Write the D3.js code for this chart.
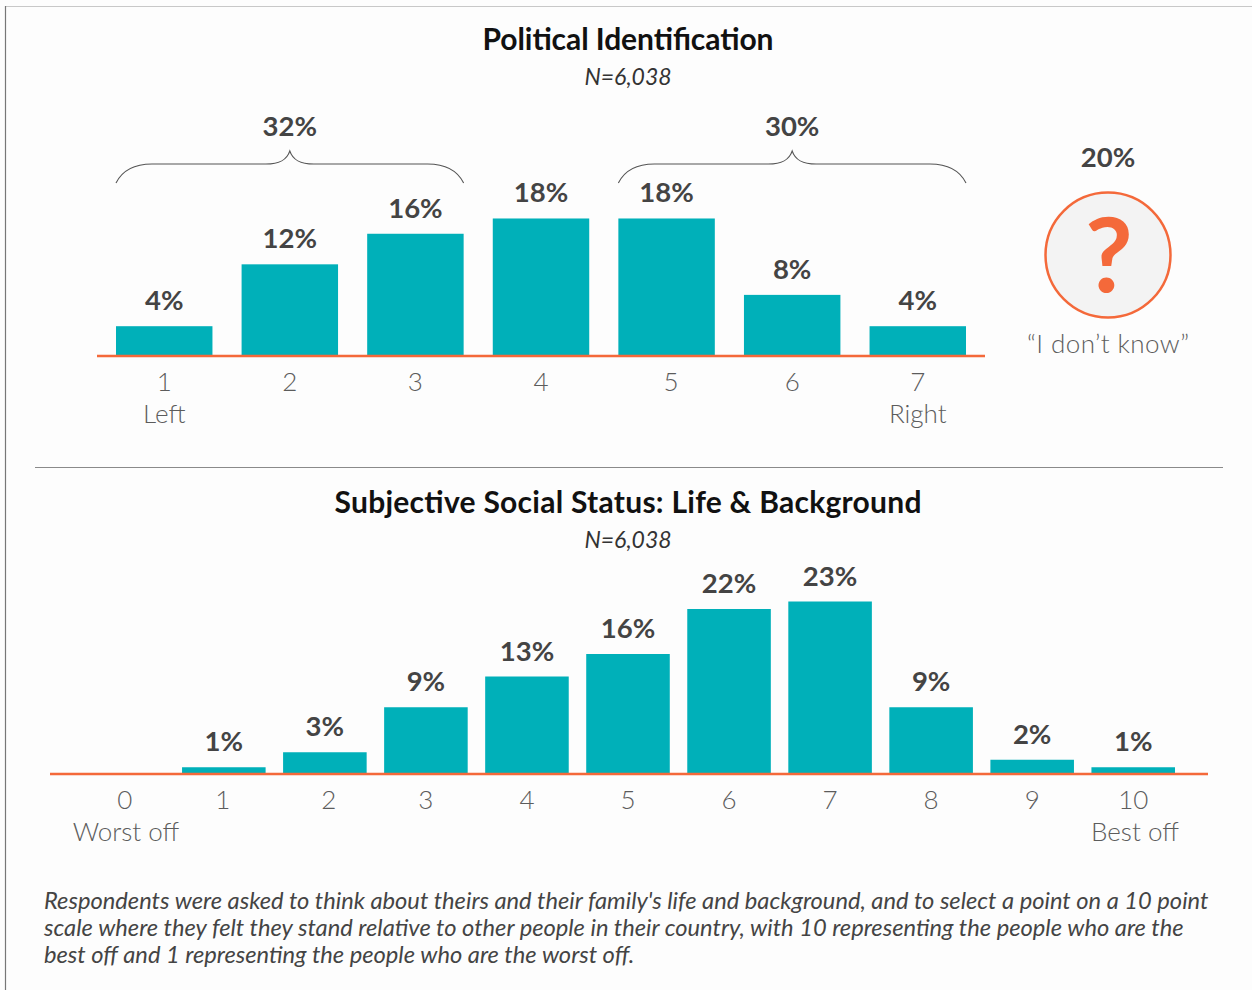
<!DOCTYPE html>
<html lang="en">
<head>
<meta charset="utf-8">
<title>Political Identification and Subjective Social Status</title>
<style>
    html, body { margin: 0; padding: 0; background: #fdfdfd; }
    svg { display: block; }
    text { font-family: Lato, "Open Sans", sans-serif; }
    .title { font-size: 30px; font-weight: 700; fill: #111; text-anchor: middle; }
    .n { font-size: 23px; font-style: italic; fill: #333; text-anchor: middle; }
    .val { font-size: 27.5px; font-weight: 700; fill: #444; text-anchor: middle; }
    .tick text, .end { font-size: 26px; fill: #5c5c5c; font-family: Lato, sans-serif; font-weight: 300; }
    .end { text-anchor: middle; }
    .note { font-size: 23.7px; font-style: italic; fill: #444; font-weight: 400; }
</style>
</head>
<body>
<div id="chart"></div>
<script src="https://cdnjs.cloudflare.com/ajax/libs/d3/7.8.5/d3.min.js"></script>
<script>
    // political identification
    var polCats = ["1", "2", "3", "4", "5", "6", "7"],
        polVals = [3.9, 12, 16, 18, 18, 8, 3.9],
        polLabels = ["4%", "12%", "16%", "18%", "18%", "8%", "4%"];
    var polGroups = [
        {label: "32%", from: "1", to: "3"},
        {label: "30%", from: "5", to: "7"}
    ];

    // subjective social status
    var sesCats = ["0", "1", "2", "3", "4", "5", "6", "7", "8", "9", "10"],
        sesVals = [0, 0.9, 2.9, 8.9, 13, 16, 22, 23, 8.9, 1.9, 0.9],
        sesLabels = ["", "1%", "3%", "9%", "13%", "16%", "22%", "23%", "9%", "2%", "1%"];

    var noteLines = [
        "Respondents were asked to think about theirs and their family's life and background, and to select a point on a 10 point",
        "scale where they felt they stand relative to other people in their country, with 10 representing the people who are the",
        "best off and 1 representing the people who are the worst off."
    ];

    var teal = "#00b0b9", orange = "#f4693a";

    var svg = d3.select("#chart").append("svg")
        .attr("width", 1252)
        .attr("height", 990);

    // page frame
    svg.append("line").attr("x1", 5).attr("x2", 1252).attr("y1", 6.5).attr("y2", 6.5).attr("stroke", "#c8c8c8").attr("stroke-width", 1);
    svg.append("line").attr("x1", 5.5).attr("x2", 5.5).attr("y1", 6).attr("y2", 990).attr("stroke", "#777").attr("stroke-width", 1.2);
    svg.append("line").attr("x1", 35).attr("x2", 1223).attr("y1", 467.5).attr("y2", 467.5).attr("stroke", "#8a8a8a").attr("stroke-width", 1);

    function barChart(cfg) {
        var x = d3.scaleBand().domain(cfg.cats).range(cfg.xRange).paddingInner(cfg.pad).paddingOuter(0);
        var y = d3.scaleLinear().domain([0, 23]).range([cfg.base, cfg.base - 23 * cfg.perPct]);
        var g = svg.append("g");

        g.selectAll("rect").data(cfg.vals).enter().append("rect")
            .attr("x", function (d, i) { return x(cfg.cats[i]) })
            .attr("y", function (d) { return y(d) })
            .attr("width", x.bandwidth())
            .attr("height", function (d) { return y(0) - y(d) })
            .attr("fill", teal);

        g.selectAll("text.val").data(cfg.vals).enter().append("text")
            .attr("class", "val")
            .attr("x", function (d, i) { return x(cfg.cats[i]) + x.bandwidth() / 2 })
            .attr("y", function (d) { return y(d) - 16 })
            .text(function (d, i) { return cfg.labels[i] });

        var axis = d3.axisBottom(x).tickSize(0).tickPadding(17);
        var ax = g.append("g").attr("transform", "translate(0," + cfg.base + ")").call(axis);
        ax.select(".domain").remove();
        ax.selectAll(".tick text")
            .attr("font-size", null).attr("font-family", null)
            .attr("dx", function (d) { return cfg.nudge[d] || 0 });
        g.append("line")
            .attr("x1", cfg.lineRange[0]).attr("x2", cfg.lineRange[1])
            .attr("y1", y(0)).attr("y2", y(0))
            .attr("stroke", orange).attr("stroke-width", 2.5);

        svg.append("text").attr("class", "title").attr("x", 628).attr("y", cfg.titleY)
            .attr("textLength", cfg.titleLen).attr("lengthAdjust", "spacing").text(cfg.title);
        svg.append("text").attr("class", "n").attr("x", 628).attr("y", cfg.nY).text("N=6,038");

        return x;
    }

    var xPol = barChart({
        cats: polCats, vals: polVals, labels: polLabels,
        xRange: [116, 966], pad: 0.232, base: 356, perPct: 7.64,
        lineRange: [97, 985], title: "Political Identification", titleY: 50, titleLen: 291, nY: 85,
        nudge: {"5": 4.5}
    });
    var xSes = barChart({
        cats: sesCats, vals: sesVals, labels: sesLabels,
        xRange: [81, 1175], pad: 0.173, base: 774, perPct: 7.5,
        lineRange: [50, 1208], title: "Subjective Social Status: Life & Background", titleY: 513, titleLen: 587, nY: 548,
        nudge: {"0": 2, "1": -1, "2": 4}
    });

    // axis end captions
    function endLabel(txt, xp, yp) {
        svg.append("text").attr("class", "end").attr("x", xp).attr("y", yp).text(txt);
    }
    endLabel("Left", xPol("1") + xPol.bandwidth() / 2, 423);
    endLabel("Right", xPol("7") + xPol.bandwidth() / 2, 423);
    endLabel("Worst off", 126, 841);
    endLabel("Best off", 1135, 841);

    // braces over the grouped bars
    polGroups.forEach(function (b) {
        var x0 = xPol(b.from), x1 = xPol(b.to) + xPol.bandwidth(), mid = (x0 + x1) / 2;
        var p = d3.path();
        p.moveTo(x0, 183);
        p.bezierCurveTo(x0 + 6, 171, x0 + 18, 164, x0 + 36, 164);
        p.lineTo(mid - 24, 164);
        p.bezierCurveTo(mid - 10, 164, mid - 3, 160, mid, 151);
        p.bezierCurveTo(mid + 3, 160, mid + 10, 164, mid + 24, 164);
        p.lineTo(x1 - 36, 164);
        p.bezierCurveTo(x1 - 18, 164, x1 - 6, 171, x1, 183);
        svg.append("path").attr("d", p.toString()).attr("fill", "none").attr("stroke", "#555").attr("stroke-width", 1.1);
        svg.append("text").attr("class", "val").attr("x", mid).attr("y", 136).text(b.label);
    });

    // don't know callout
    svg.append("text").attr("class", "val").attr("x", 1108).attr("y", 167).text("20%");
    svg.append("circle").attr("cx", 1108).attr("cy", 255).attr("r", 62.5)
        .attr("fill", "#f3f3f3").attr("stroke", orange).attr("stroke-width", 2.5);
    svg.append("text").attr("x", 1109).attr("y", 292).attr("text-anchor", "middle")
        .attr("font-size", 104).attr("font-weight", 700).attr("fill", orange).text("?");
    svg.append("text").attr("class", "end").attr("x", 1108).attr("y", 353)
        .attr("font-size", 26).attr("textLength", 162).text("“I don’t know”");

    // footnote
    svg.append("g").selectAll("text").data(noteLines).enter().append("text")
        .attr("class", "note")
        .attr("x", 44)
        .attr("y", function (d, i) { return 909 + i * 27 })
        .text(function (d) { return d });
</script>
</body>
</html>
